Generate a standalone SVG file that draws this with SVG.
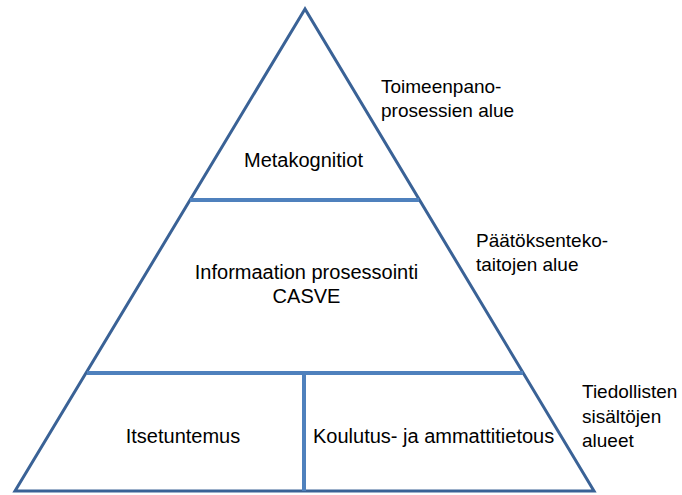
<svg xmlns="http://www.w3.org/2000/svg" width="682" height="495" viewBox="0 0 682 495">
  <style>
    .outline { fill: none; stroke: #3A6296; stroke-width: 3; stroke-linejoin: miter; }
    .divider { fill: none; stroke: #4F81BD; stroke-width: 4; }
    text { font-family: "Liberation Sans", Arial, sans-serif; font-size: 20px; fill: #000; }
    .mid { text-anchor: middle; }
    .side { font-size: 19px; }
  </style>
  <rect width="682" height="495" fill="#fff"/>

  <g id="connectors">
    <!-- pyramid outline -->
    <polygon class="outline" points="305,9 15,491 594,491"/>
    <!-- level dividers -->
    <line class="divider" x1="190" y1="200" x2="419" y2="200"/>
    <line class="divider" x1="87" y1="373" x2="523" y2="373"/>
    <line class="divider" x1="304" y1="373" x2="304" y2="491"/>
  </g>

  <g id="metakognitiot">
    <text class="mid" x="303.5" y="167">Metakognitiot</text>
  </g>
  <g id="informaation-prosessointi">
    <text class="mid" x="306.5" y="279">Informaation prosessointi</text>
    <text class="mid" x="306.5" y="303">CASVE</text>
  </g>
  <g id="itsetuntemus">
    <text class="mid" x="183" y="443">Itsetuntemus</text>
  </g>
  <g id="koulutus-ja-ammattitietous">
    <text x="313" y="443">Koulutus- ja ammattitietous</text>
  </g>

  <g id="toimeenpano">
    <text class="side" x="381" y="93">Toimeenpano-</text>
    <text class="side" x="381" y="117">prosessien alue</text>
  </g>
  <g id="paatoksenteko">
    <text class="side" x="476" y="247">Päätöksenteko-</text>
    <text class="side" x="476" y="271">taitojen alue</text>
  </g>
  <g id="tiedollisten">
    <text class="side" x="582" y="398">Tiedollisten</text>
    <text class="side" x="582" y="423">sisältöjen</text>
    <text class="side" x="582" y="447">alueet</text>
  </g>
</svg>
